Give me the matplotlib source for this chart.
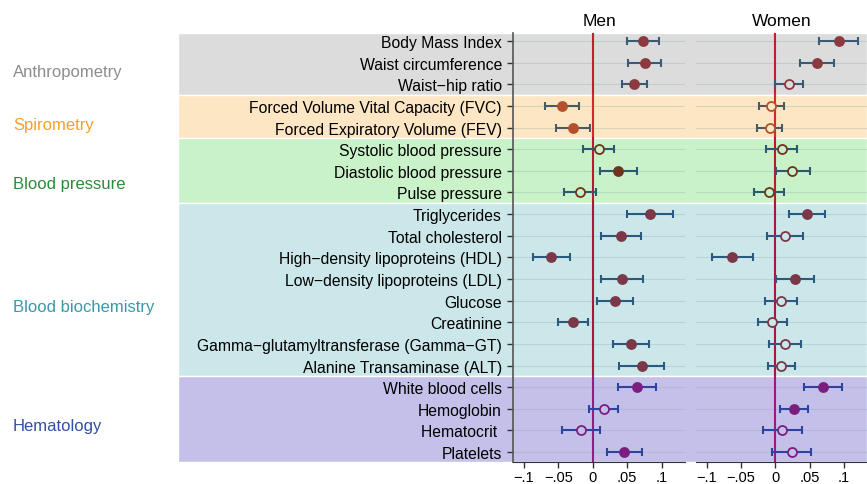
import numpy as np
import matplotlib.pyplot as plt
from matplotlib.patches import Rectangle
from matplotlib import transforms

plt.rcParams['font.family'] = ['Liberation Sans', 'DejaVu Sans']

# rows of the forest plot, top to bottom
rows = ["Body Mass Index", "Waist circumference", "Waist\u2212hip ratio",
        "Forced Volume Vital Capacity (FVC)", "Forced Expiratory Volume (FEV)",
        "Systolic blood pressure", "Diastolic blood pressure", "Pulse pressure",
        "Triglycerides", "Total cholesterol", "High\u2212density lipoproteins (HDL)",
        "Low\u2212density lipoproteins (LDL)", "Glucose", "Creatinine",
        "Gamma\u2212glutamyltransferase (Gamma\u2212GT)", "Alanine Transaminase (ALT)",
        "White blood cells", "Hemoglobin", "Hematocrit ", "Platelets"]
groups = ["Anthropometry", "Spirometry", "Blood pressure", "Blood biochemistry", "Hematology"]
group_sizes = [3, 2, 3, 8, 4]

men_est = [0.0735, 0.0754, 0.0603, -0.0446, -0.0281, 0.0083, 0.0365, -0.019, 0.0831, 0.0404,
           -0.0602, 0.0423, 0.0321, -0.0292, 0.055, 0.0714, 0.0637, 0.0156, -0.0175, 0.0458]
men_lo = [0.049, 0.0516, 0.0418, -0.0694, -0.0529, -0.014, 0.0102, -0.0417, 0.0501, 0.0112,
          -0.0869, 0.0122, 0.0064, -0.0505, 0.0287, 0.0385, 0.036, -0.0058, -0.0446, 0.02]
men_hi = [0.0968, 0.099, 0.0783, -0.0198, -0.0034, 0.0312, 0.0637, 0.0044, 0.1162, 0.0695,
          -0.0325, 0.0724, 0.0583, -0.0077, 0.0812, 0.104, 0.0914, 0.0365, 0.0102, 0.072]
men_sig = [1, 1, 1, 1, 1, 0, 1, 0, 1, 1, 1, 1, 1, 1, 1, 1, 1, 0, 0, 1]

women_est = [0.0925, 0.0608, 0.0195, -0.0069, -0.0083, 0.0092, 0.0248, -0.0098, 0.0462, 0.0141,
             -0.0629, 0.0292, 0.0088, -0.0054, 0.0136, 0.0088, 0.0696, 0.0278, 0.0102, 0.0238]
women_lo = [0.0638, 0.036, 0.0, -0.024, -0.0263, -0.0132, 0.0005, -0.0307, 0.0195, -0.0117,
            -0.0921, 0.0015, -0.0146, -0.0259, -0.0098, -0.0112, 0.0418, 0.0067, -0.0186, -0.005]
women_hi = [0.1208, 0.0857, 0.0404, 0.0121, 0.0092, 0.0316, 0.0501, 0.0126, 0.0725, 0.0404,
            -0.0332, 0.057, 0.0316, 0.0165, 0.037, 0.0282, 0.098, 0.0482, 0.0389, 0.0516]
women_sig = [1, 1, 0, 0, 0, 0, 0, 0, 1, 0, 1, 1, 0, 0, 0, 0, 1, 1, 0, 0]

xticks = [-0.1, -0.05, 0, 0.05, 0.1]
xticklabels = ["\u2212.1", "\u2212.05", "0", ".05", ".1"]

# per group styling
band_col = ['#dcdcdc', '#fde6c4', '#c9f2c9', '#cce7ea', '#c4c0ea']
label_col = ['#8c8c8c', '#f5a02a', '#2a8a3a', '#3a98a8', '#3050a8']
marker_col = ['#8b3a40', '#b4502c', '#6e3420', '#7a3848', '#7a1f7e']
err_col = ['#3a5a78', '#4a5a64', '#2c5a74', '#2a5a80', '#2c44a0']
zero_col = ['#c0202c', '#d62a2a', '#b81a30', '#a8183c', '#9a1a80']
label_rows = [1.4, 3.85, 6.6, 12.25, 17.75]

n = len(rows)
y = np.arange(n)
grp = np.repeat(np.arange(len(groups)), group_sizes)
starts = np.cumsum([0] + group_sizes[:-1])
ytop, ybot = -0.37, n - 1 + 0.46

W, H = 867, 485
fig = plt.figure(figsize=(W / 100, H / 100), dpi=100)
ax_m = fig.add_axes([513 / W, 1 - 463 / H, 172 / W, 429 / H])
ax_w = fig.add_axes([696 / W, 1 - 463 / H, 171 / W, 429 / H])

tr = transforms.blended_transform_factory(fig.transFigure, ax_m.transData)
for g in range(len(groups)):
    s = starts[g]
    e = s + group_sizes[g] - 1
    y0 = ytop if g == 0 else s - 0.5
    y1 = ybot if g == len(groups) - 1 else e + 0.5
    rect = Rectangle((178 / W, y0), 1 - 178 / W, y1 - y0, transform=tr,
                     facecolor=band_col[g], edgecolor='white', lw=1.0, zorder=-1)
    fig.add_artist(rect)
    ax_m.text(13 / W, label_rows[g], groups[g], transform=tr, ha='left', va='center',
              color=label_col[g], fontsize=12)

panels = [(ax_m, "Men", men_est, men_lo, men_hi, men_sig),
          (ax_w, "Women", women_est, women_lo, women_hi, women_sig)]

for ax, title, est, lo, hi, sig in panels:
    ax.set_facecolor('none')
    ax.set_xlim(-0.116, 0.134)
    ax.set_ylim(ybot, ytop)
    ax.set_yticks(y)
    ax.set_axisbelow(True)
    ax.grid(axis='y', color='#8aa8a8', alpha=0.3, lw=0.8)
    for g in range(len(groups)):
        s = starts[g]
        e = s + group_sizes[g] - 1
        y0 = ytop if g == 0 else s - 0.5
        y1 = ybot if g == len(groups) - 1 else e + 0.5
        ax.plot([0, 0], [y0, y1], color=zero_col[g], lw=1.5, zorder=1)
    for i in range(n):
        g = grp[i]
        ax.errorbar(est[i], y[i], xerr=[[est[i] - lo[i]], [hi[i] - est[i]]], fmt='none',
                    ecolor=err_col[g], elinewidth=1.5, capsize=3, capthick=1.5, zorder=2)
        fc = marker_col[g] if sig[i] else band_col[g]
        ax.plot(est[i], y[i], 'o', ms=6.5, mfc=fc, mec=marker_col[g], mew=1.3, zorder=3)
    ax.set_xticks(xticks)
    ax.set_xticklabels(xticklabels, fontsize=10.5)
    ax.tick_params(axis='x', length=4, width=1, color='#333333', pad=1.5)
    ax.set_title(title, fontsize=12.5, pad=6)
    for sp in ['top', 'right']:
        ax.spines[sp].set_visible(False)
    ax.spines['bottom'].set_color('#333333')

ax_m.set_yticklabels(rows, fontsize=11.3)
ax_m.tick_params(axis='y', length=4, width=1, color='#333333', pad=4)
ax_m.spines['left'].set_color('#555555')
ax_m.spines['left'].set_linewidth(1.2)
ax_w.tick_params(axis='y', length=0, labelleft=False)
ax_w.spines['left'].set_visible(False)

fig.savefig('out.png', dpi=100)
